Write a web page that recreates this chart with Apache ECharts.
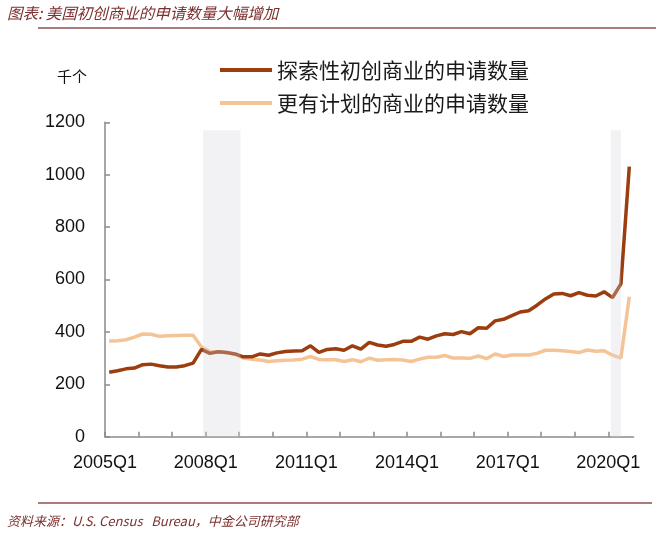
<!DOCTYPE html>
<html><head><meta charset="utf-8">
<script src="https://cdn.jsdelivr.net/npm/echarts@6/dist/echarts.min.js"></script>
<style>html,body{margin:0;padding:0;background:#fff}#c{width:670px;height:540px}</style>
</head><body><div id="c"></div>
<script>
const quarters = [
 '2005Q1','2005Q2','2005Q3','2005Q4','2006Q1','2006Q2','2006Q3','2006Q4',
 '2007Q1','2007Q2','2007Q3','2007Q4','2008Q1','2008Q2','2008Q3','2008Q4',
 '2009Q1','2009Q2','2009Q3','2009Q4','2010Q1','2010Q2','2010Q3','2010Q4',
 '2011Q1','2011Q2','2011Q3','2011Q4','2012Q1','2012Q2','2012Q3','2012Q4',
 '2013Q1','2013Q2','2013Q3','2013Q4','2014Q1','2014Q2','2014Q3','2014Q4',
 '2015Q1','2015Q2','2015Q3','2015Q4','2016Q1','2016Q2','2016Q3','2016Q4',
 '2017Q1','2017Q2','2017Q3','2017Q4','2018Q1','2018Q2','2018Q3','2018Q4',
 '2019Q1','2019Q2','2019Q3','2019Q4','2020Q1','2020Q2','2020Q3'
];
const exploratory = [
 246,252,259,262,275,277,271,266,266,271,281,333,318,324,321,316,
 305,305,316,311,320,325,327,328,347,322,333,336,330,347,334,360,
 350,345,352,364,364,380,372,385,393,390,401,393,416,414,442,448,
 462,476,481,502,526,545,547,538,550,540,537,553,531,583,1031
];
const planned = [
 365,366,370,380,392,391,383,385,386,387,387,342,325,324,320,315,
 300,296,293,287,290,292,293,296,306,295,294,294,287,294,286,300,
 292,294,295,293,287,296,303,303,310,300,300,299,308,298,316,306,
 312,312,312,318,330,330,328,325,321,331,326,328,311,300,534
];
const seriesNames = ['探索性初创商业的申请数量', '更有计划的商业的申请数量'];
const xTickLabels = ['2005Q1','2008Q1','2011Q1','2014Q1','2017Q1','2020Q1'];
const yTicks = [0, 200, 400, 600, 800, 1000, 1200];
// shaded periods, in quarter-index units on the x axis, and their top value
const shadedPeriods = [[11.7, 16.15], [60.3, 61.5]];
const shadeTop = 1170;

const yearTickIdx = quarters.map((q, i) => q.endsWith('Q1') ? i : -1).filter(i => i >= 0);
const labelIdx = xTickLabels.map(l => quarters.indexOf(l));

const axisColor = '#8a8a8a';
const chart = echarts.init(document.getElementById('c'), null, {renderer: 'canvas'});
chart.setOption({
  animation: false,
  backgroundColor: '#fff',
  grid: {left: 105, right: 36.5, top: 122.3, bottom: 103.3},
  legend: {
    data: seriesNames,
    orient: 'vertical',
    left: 220, top: 59, padding: 0,
    icon: 'rect', itemWidth: 52, itemHeight: 4, itemGap: 11,
    textStyle: {fontFamily: 'Noto Sans CJK SC', fontSize: 21, color: '#1a1a1a', lineHeight: 22}
  },
  xAxis: [{
    type: 'category', data: quarters, boundaryGap: true, show: false
  }, {
    type: 'value', min: 0, max: quarters.length, position: 'bottom',
    axisLine: {show: true, lineStyle: {color: axisColor, width: 1.5}},
    axisTick: {show: true, inside: true, length: 5, customValues: yearTickIdx,
      lineStyle: {color: axisColor, width: 1.5}},
    axisLabel: {customValues: labelIdx, formatter: v => quarters[v] || '', margin: 17,
      fontFamily: 'Liberation Sans', fontSize: 18, color: '#111'},
    splitLine: {show: false}
  }],
  yAxis: {
    type: 'value', min: yTicks[0], max: yTicks[yTicks.length - 1], interval: yTicks[1] - yTicks[0],
    axisLine: {show: true, lineStyle: {color: axisColor, width: 1.5}},
    axisTick: {show: true, inside: true, length: 5, lineStyle: {color: axisColor, width: 1.5}},
    axisLabel: {margin: 20, fontFamily: 'Liberation Sans', fontSize: 18, color: '#111',
      formatter: v => String(v)},
    splitLine: {show: false}
  },
  series: [{
    name: seriesNames[0], type: 'line', xAxisIndex: 0, data: exploratory,
    showSymbol: false, symbol: 'none', color: '#9b3d0e',
    lineStyle: {width: 3.5, color: '#9b3d0e'}, z: 3
  }, {
    name: seriesNames[1], type: 'line', xAxisIndex: 0, data: planned,
    showSymbol: false, symbol: 'none', color: '#f5c496',
    lineStyle: {width: 3.5, color: '#f5c496'}, z: 2
  }, {
    name: 'shade', type: 'line', xAxisIndex: 1, data: [], silent: true, z: 10,
    markArea: {
      silent: true, z: 10,
      itemStyle: {color: 'rgba(212,212,218,0.3)'},
      data: shadedPeriods.map(p => [{xAxis: p[0], yAxis: 0}, {xAxis: p[1], yAxis: shadeTop}])
    }
  }],
  graphic: [
    {type: 'text', left: 7, top: 5, style: {text: '图表: 美国初创商业的申请数量大幅增加',
      fontFamily: 'Noto Sans CJK SC', fontSize: 15.5, fontStyle: 'italic', fill: '#7d2f2f'}},
    {type: 'line', shape: {x1: 38, y1: 28, x2: 656, y2: 28}, style: {stroke: '#8e4f4f', lineWidth: 1.5}},
    {type: 'text', left: 57, top: 69, style: {text: '千个', fontFamily: 'Noto Sans CJK SC', fontSize: 15, fill: '#111'}},
    {type: 'line', shape: {x1: 38, y1: 503, x2: 652, y2: 503}, style: {stroke: '#8e4f4f', lineWidth: 1.5}},
    {type: 'text', left: 7, top: 515, style: {text: '资料来源：U.S. Census   Bureau，中金公司研究部',
      fontFamily: 'Noto Sans CJK SC', fontSize: 13, fontStyle: 'italic', fill: '#7d2f2f'}}
  ]
});
</script></body></html>
